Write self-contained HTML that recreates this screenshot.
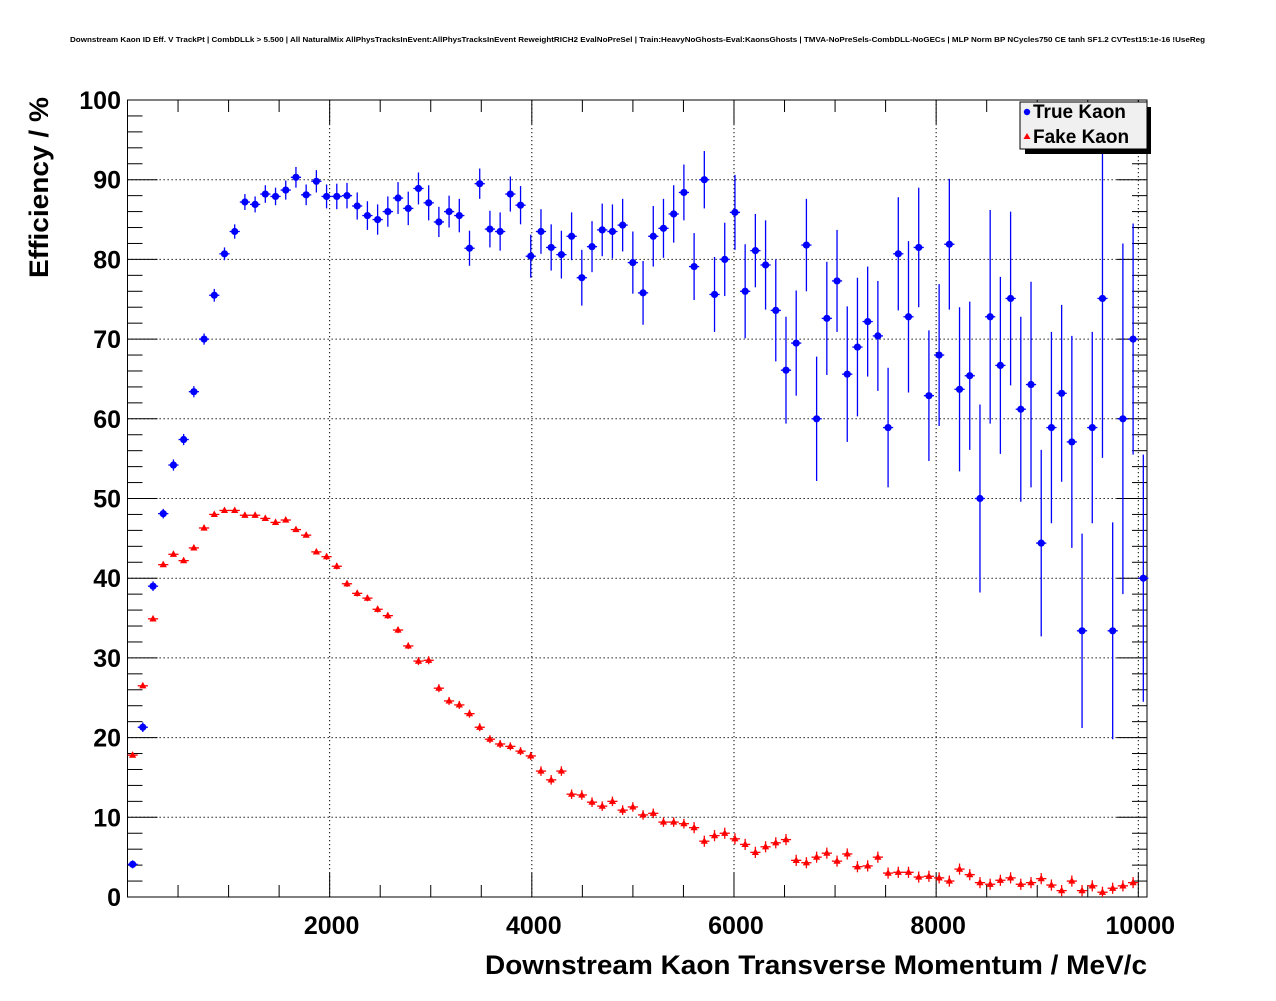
<!DOCTYPE html>
<html><head><meta charset="utf-8"><style>
html,body{margin:0;padding:0;background:#fff;}
body{width:1276px;height:996px;overflow:hidden;font-family:"Liberation Sans",Arial,sans-serif;}
svg text{font-family:"Liberation Sans",Arial,sans-serif;font-weight:bold;}
</style></head><body>
<svg id="chart" width="1276" height="996" viewBox="0 0 1276 996" xmlns="http://www.w3.org/2000/svg">
<rect x="0" y="0" width="1276" height="996" fill="#fff"/>
<text x="70" y="42" font-size="7.6" textLength="1135" lengthAdjust="spacingAndGlyphs">Downstream Kaon ID Eff. V TrackPt | CombDLLk &gt; 5.500 | All NaturalMix AllPhysTracksInEvent:AllPhysTracksInEvent ReweightRICH2 EvalNoPreSel | Train:HeavyNoGhosts-Eval:KaonsGhosts | TMVA-NoPreSels-CombDLL-NoGECs | MLP Norm BP NCycles750 CE tanh SF1.2 CVTest15:1e-16 !UseReg</text>
<g id="grid"></g>
<g id="axes"></g>
<g id="fake"></g>
<g id="true"></g>
<text transform="translate(48,278) rotate(-90)" font-size="27" textLength="181" lengthAdjust="spacingAndGlyphs">Efficiency / %</text>
<text x="485" y="974" font-size="27" textLength="662" lengthAdjust="spacingAndGlyphs">Downstream Kaon Transverse Momentum / MeV/c</text>
<g>
<rect x="1025" y="107" width="126" height="47" fill="#000"/>
<rect x="1020" y="102" width="127" height="47" fill="#f0f0f0" stroke="#000" stroke-width="1"/>
<circle cx="1027" cy="112" r="3.2" fill="#0000ff"/>
<text x="1033" y="118" font-size="19">True Kaon</text>
<polygon points="1027,133 1030.5,139 1023.5,139" fill="#ff0000"/>
<text x="1033" y="143" font-size="19">Fake Kaon</text>
</g>
</svg>
<script>
const xTickLabels = ["2000","4000","6000","8000","10000"];
const xTickValues = [2000,4000,6000,8000,10000];
const yTickLabels = ["0","10","20","30","40","50","60","70","80","90","100"];
const yTickValues = [0,10,20,30,40,50,60,70,80,90,100];
const binWidth = 101;
const trueEff = [4.1,21.3,39.0,48.1,54.2,57.4,63.4,70.0,75.5,80.7,83.5,87.2,86.9,88.2,87.9,88.7,90.3,88.1,89.8,87.9,
87.9,88.0,86.7,85.5,85.0,86.0,87.7,86.4,88.9,87.1,84.7,86.0,85.5,81.4,89.5,83.8,83.5,88.2,86.8,80.4,
83.5,81.5,80.6,82.9,77.7,81.6,83.7,83.5,84.3,79.6,75.8,82.9,83.9,85.7,88.4,79.1,90.0,75.6,80.0,85.9,
76.0,81.1,79.3,73.6,66.1,69.5,81.8,60.0,72.6,77.3,65.6,69.0,72.2,70.4,58.9,80.7,72.8,81.5,62.9,68.0,
81.9,63.7,65.4,50.0,72.8,66.7,75.1,61.2,64.3,44.4,58.9,63.2,57.1,33.4,58.9,75.1,33.4,60.0,70.0,40.0];
const trueErr = [0.5,0.6,0.6,0.6,0.7,0.7,0.7,0.7,0.8,0.8,0.9,1.0,1.0,1.1,1.1,1.2,1.3,1.3,1.4,1.5,
1.6,1.6,1.7,1.8,1.9,1.9,2.0,2.1,2.0,2.2,1.9,2.0,2.1,2.2,1.9,2.3,2.4,2.2,2.4,2.7,
2.8,2.9,3.0,3.0,3.5,3.2,3.3,3.4,3.3,3.9,4.0,3.8,3.7,3.6,3.5,4.2,3.6,4.7,4.6,4.7,
5.9,4.6,5.6,6.4,6.7,6.6,5.8,7.8,7.1,6.4,8.5,8.7,6.9,6.9,7.5,7.1,9.5,7.5,8.2,8.9,
8.2,10.3,9.3,11.8,13.4,11.1,10.9,11.6,12.9,11.7,12.0,11.1,13.3,12.2,12.0,20.0,13.6,22.0,14.5,15.5];
const fakeEff = [17.8,26.5,34.9,41.7,43.0,42.2,43.8,46.3,48.0,48.5,48.5,47.9,47.9,47.5,47.0,47.3,46.1,45.4,43.3,42.7,
41.5,39.3,38.1,37.5,36.1,35.3,33.5,31.5,29.6,29.7,26.2,24.6,24.1,23.0,21.3,19.8,19.2,18.9,18.3,17.7,
15.8,14.7,15.8,12.9,12.8,11.9,11.4,12.0,10.9,11.3,10.3,10.5,9.4,9.4,9.2,8.7,7.0,7.7,8.0,7.3,
6.6,5.6,6.3,6.8,7.2,4.6,4.3,5.0,5.5,4.5,5.4,3.8,3.9,5.0,3.0,3.1,3.1,2.5,2.6,2.4,
2.0,3.5,2.8,1.8,1.6,2.1,2.4,1.6,1.8,2.3,1.5,0.8,2.0,0.8,1.4,0.6,1.1,1.4,1.8];
const fakeErr = [0.3,0.3,0.3,0.3,0.3,0.3,0.3,0.3,0.3,0.3,0.3,0.3,0.3,0.3,0.3,0.3,0.3,0.3,0.3,0.4,
0.4,0.4,0.4,0.4,0.4,0.4,0.4,0.4,0.5,0.5,0.5,0.5,0.5,0.5,0.5,0.5,0.5,0.5,0.5,0.5,
0.6,0.6,0.6,0.6,0.6,0.6,0.6,0.6,0.6,0.6,0.6,0.6,0.6,0.6,0.6,0.7,0.7,0.7,0.7,0.7,
0.7,0.7,0.7,0.7,0.7,0.7,0.7,0.7,0.7,0.7,0.7,0.7,0.7,0.7,0.7,0.7,0.7,0.7,0.7,0.7,
0.7,0.7,0.7,0.7,0.7,0.7,0.7,0.7,0.7,0.7,0.7,0.7,0.7,0.7,0.7,0.7,0.7,0.7,0.7];

const L=127.5, R=1147, T=100, B=897;
const X0=0, X1=10086, Y0=0, Y1=100;
function sx(v){return L+(v-X0)/(X1-X0)*(R-L);}
function sy(v){return B-(v-Y0)/(Y1-Y0)*(B-T);}
const NS="http://www.w3.org/2000/svg";
function mk(tag,attrs,parent){const e=document.createElementNS(NS,tag);for(const k in attrs)e.setAttribute(k,attrs[k]);parent.appendChild(e);return e;}
const grid=document.getElementById('grid'), axes=document.getElementById('axes');

yTickValues.forEach(v=>{ if(v>0&&v<100){
  const g=mk('line',{x1:L,x2:R,y1:sy(v),y2:sy(v),stroke:'#000','stroke-width':1,'stroke-dasharray':'1.3,2.7'},grid);
  
  
}});
xTickValues.forEach(v=>{
  const g=mk('line',{x1:sx(v),x2:sx(v),y1:T,y2:B,stroke:'#000','stroke-width':1,'stroke-dasharray':'1.3,2.7'},grid);
  
  
});
const fr=mk('rect',{x:L,y:T,width:R-L,height:B-T,fill:'none',stroke:'#000','stroke-width':1},axes);


for(let v=0;v<=100;v+=2){
  const major=v%10===0, len=major?30:15;
  mk('line',{x1:L,x2:L+len,y1:sy(v),y2:sy(v),stroke:'#000','stroke-width':1},axes);
  mk('line',{x1:R,x2:R-len,y1:sy(v),y2:sy(v),stroke:'#000','stroke-width':1},axes);
}
yTickValues.forEach((v,i)=>{
  const t=mk('text',{x:121,y:sy(v)+9,'font-size':25,'text-anchor':'end'},axes);
  t.textContent=yTickLabels[i];
  
  
});
for(let v=0;v<=10000;v+=500){
  const major=v%2000===0, len=major?24:12;
  mk('line',{x1:sx(v),x2:sx(v),y1:B,y2:B-len,stroke:'#000','stroke-width':1},axes);
  mk('line',{x1:sx(v),x2:sx(v),y1:T,y2:T+len,stroke:'#000','stroke-width':1},axes);
}
xTickValues.forEach((v,i)=>{
  const t=mk('text',{x:sx(v)+2,y:934,'font-size':25,'text-anchor':'middle'},axes);
  t.textContent=xTickLabels[i];
  
  
});

function drawSeries(gid,vals,errs,color,shape){
  const g=document.getElementById(gid);
  vals.forEach((v,i)=>{
    if(v==null) return;
    const xc=(i+0.5)*binWidth, px=sx(xc), py=sy(v);
    const hw=(sx(xc+binWidth/2)-sx(xc-binWidth/2))/2;
    const e=errs[i];
    const top=Math.max(sy(Math.min(v+e,100)),T), bot=Math.min(sy(v-e),B);
    const pt=document.createElementNS(NS,'g');
    
    
    g.appendChild(pt);
    mk('line',{x1:px-hw,x2:px+hw,y1:py,y2:py,stroke:color,'stroke-width':1.3},pt);
    mk('line',{x1:px,x2:px,y1:top,y2:bot,stroke:color,'stroke-width':1.3},pt);
    if(shape==='circle') mk('circle',{cx:px,cy:py,r:3.6,fill:color},pt);
    else mk('polygon',{points:`${px},${py-4} ${px+3.6},${py+2.6} ${px-3.6},${py+2.6}`,fill:color},pt);
  });
}
drawSeries('fake',fakeEff,fakeErr,'#ff0000','tri');
drawSeries('true',trueEff,trueErr,'#0000ff','circle');
</script>
</body></html>
